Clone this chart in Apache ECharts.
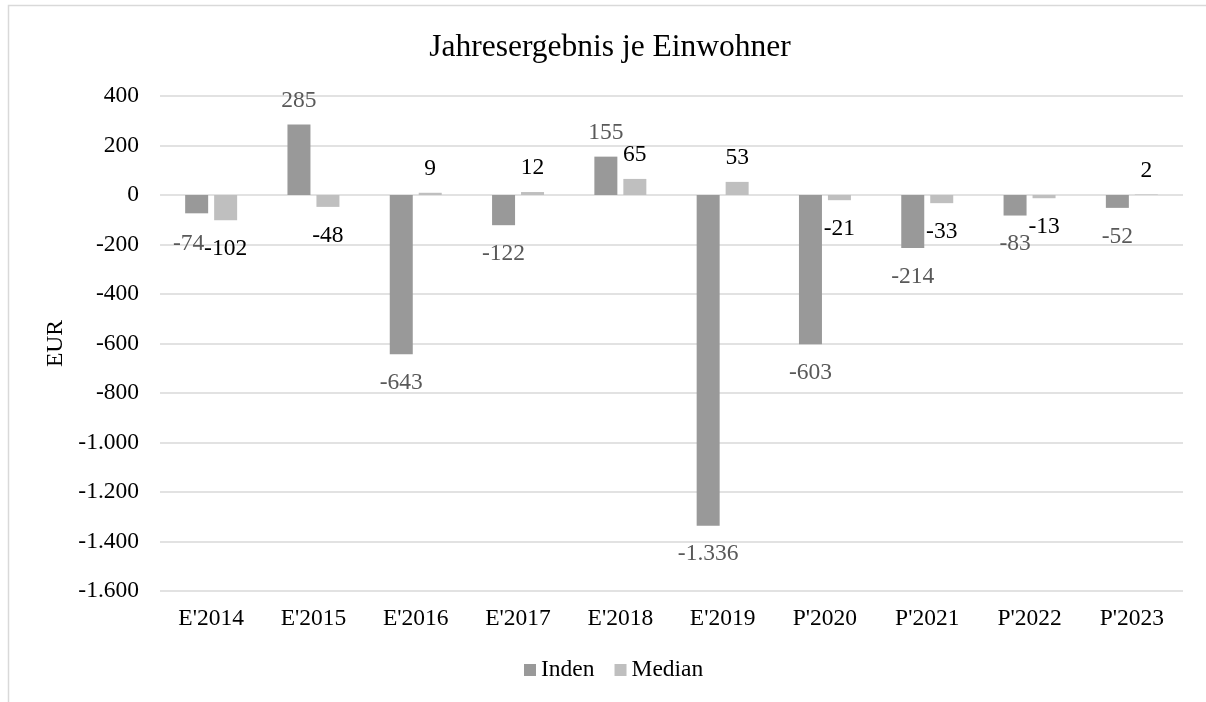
<!DOCTYPE html>
<html>
<head>
<meta charset="utf-8">
<title>Jahresergebnis je Einwohner</title>
<script src="https://cdn.jsdelivr.net/npm/echarts@6/dist/echarts.min.js"></script>
<style>
  html, body { margin: 0; padding: 0; background: #ffffff; }
  #chart { width: 1206px; height: 702px; }
</style>
</head>
<body>
<div id="chart"></div>
<script>
// Jahresergebnis je Einwohner (EUR)
const categories = ["E'2014", "E'2015", "E'2016", "E'2017", "E'2018", "E'2019", "P'2020", "P'2021", "P'2022", "P'2023"];
const indenValues = [-74, 285, -643, -122, 155, -1336, -603, -214, -83, -52];
const medianValues = [-102, -48, 9, 12, 65, 53, -21, -33, -13, 2];
const seriesNames = ['Inden', 'Median'];
const yTicks = { min: -1600, max: 400, step: 200 };

const FONT = "'Liberation Serif', 'Times New Roman', serif";

// German number format: thousands separated by "."
function fmt(v) {
  const s = String(Math.abs(Math.round(v))).replace(/\B(?=(\d{3})+(?!\d))/g, '.');
  return (v < 0 ? '-' : '') + s;
}

// small manual nudges for overlapping labels (series index -> data index -> offset)
const labelNudge = { 0: { 0: [-8, 2] } };

function buildData(values, seriesIdx) {
  return values.map((v, i) => {
    const nudge = (labelNudge[seriesIdx] || {})[i];
    const label = v < 0
      ? { position: 'bottom', distance: 16.5 }
      : { position: 'top', distance: 12 };
    if (nudge) label.offset = nudge;
    return { value: v, label: label };
  });
}

const chart = echarts.init(document.getElementById('chart'), null, { renderer: 'canvas' });

const option = {
  backgroundColor: '#ffffff',
  animation: false,
  textStyle: { fontFamily: FONT },
  title: {
    text: 'Jahresergebnis je Einwohner',
    left: 610,
    top: 32,
    padding: 0,
    textAlign: 'center',
    textStyle: { fontFamily: FONT, fontSize: 31.5, fontWeight: 'normal', color: '#000000' }
  },
  legend: {
    data: seriesNames,
    left: 524,
    top: 658,
    padding: 0,
    itemWidth: 12,
    itemHeight: 12,
    itemGap: 20,
    icon: 'rect',
    textStyle: { fontFamily: FONT, fontSize: 23.5, color: '#000000', padding: [0, 0, 0, 0] }
  },
  graphic: [{
    type: 'rect',
    shape: { x: 8.5, y: 5.5, width: 1300, height: 800 },
    style: { fill: 'none', stroke: '#d9d9d9', lineWidth: 1.5 },
    silent: true,
    z: -10
  }],
  grid: { left: 160, right: 23, top: 96, bottom: 111, containLabel: false },
  xAxis: {
    type: 'category',
    data: categories,
    axisLine: { show: false, onZero: false },
    axisTick: { show: false },
    axisLabel: { fontFamily: FONT, fontSize: 23.5, color: '#000000', margin: 16 },
    splitLine: { show: false }
  },
  yAxis: {
    type: 'value',
    min: yTicks.min,
    max: yTicks.max,
    interval: yTicks.step,
    name: 'EUR',
    nameLocation: 'middle',
    nameGap: 92,
    nameTextStyle: { fontFamily: FONT, fontSize: 23.5, color: '#000000' },
    axisLine: { show: false },
    axisTick: { show: false },
    axisLabel: { fontFamily: FONT, fontSize: 23.5, color: '#000000', margin: 21, formatter: fmt },
    splitLine: { lineStyle: { color: '#d9d9d9', width: 1.5 } }
  },
  series: [
    {
      name: seriesNames[0],
      type: 'bar',
      data: buildData(indenValues, 0),
      barWidth: 23,
      barGap: '26%',
      itemStyle: { color: '#999999' },
      label: {
        show: true,
        fontFamily: FONT,
        fontSize: 23.5,
        color: '#595959',
        formatter: p => fmt(p.value)
      }
    },
    {
      name: seriesNames[1],
      type: 'bar',
      data: buildData(medianValues, 1),
      barWidth: 23,
      barGap: '26%',
      itemStyle: { color: '#bfbfbf' },
      label: {
        show: true,
        fontFamily: FONT,
        fontSize: 23.5,
        color: '#000000',
        formatter: p => fmt(p.value)
      }
    }
  ]
};

chart.setOption(option);
</script>
</body>
</html>
